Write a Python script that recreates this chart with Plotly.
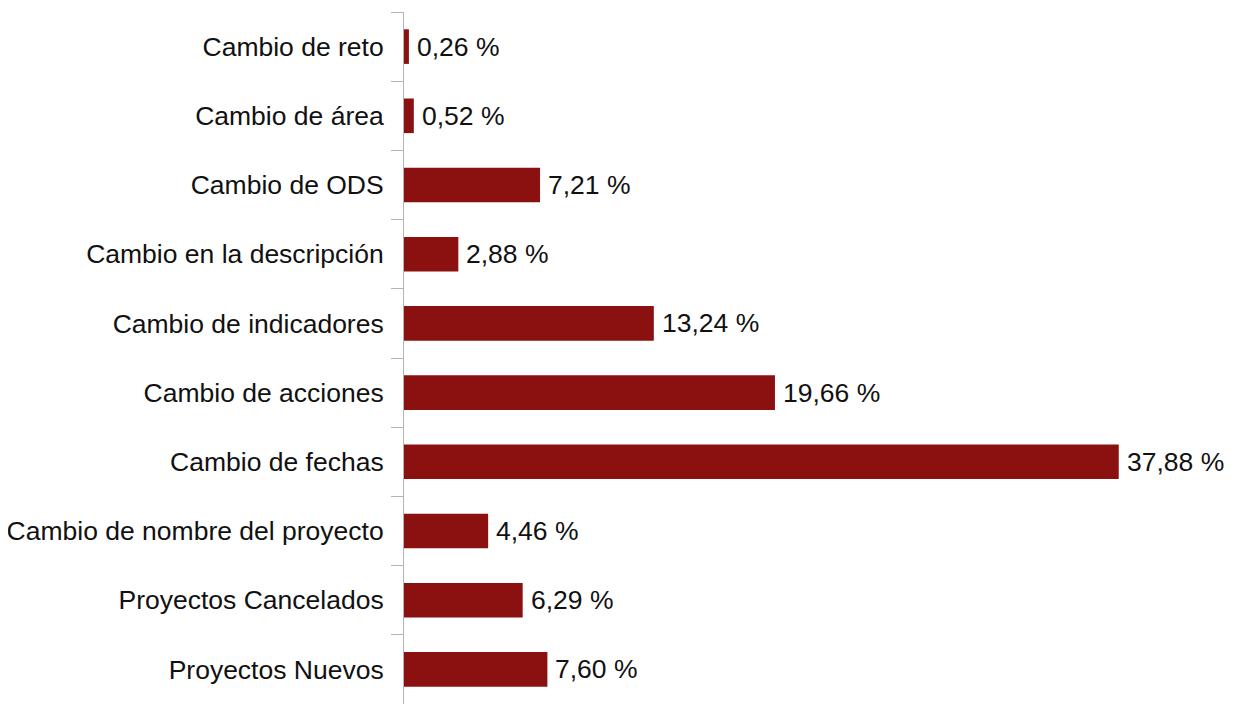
import plotly.graph_objects as go

categories = [
    "Cambio de reto",
    "Cambio de área",
    "Cambio de ODS",
    "Cambio en la descripción",
    "Cambio de indicadores",
    "Cambio de acciones",
    "Cambio de fechas",
    "Cambio de nombre del proyecto",
    "Proyectos Cancelados",
    "Proyectos Nuevos",
]
values = [0.26, 0.52, 7.21, 2.88, 13.24, 19.66, 37.88, 4.46, 6.29, 7.60]
labels = [f"{v:.2f}".replace(".", ",") + " %" for v in values]

bar_color = "#8b1111"
text_color = "#111111"
font_family = "Liberation Sans, Arial, sans-serif"

fig = go.Figure()

fig.add_trace(
    go.Bar(
        x=values,
        y=categories,
        orientation="h",
        width=0.5,
        marker=dict(color=bar_color, line=dict(width=0)),
        showlegend=False,
        hoverinfo="x+y",
    )
)

# value labels just right of each bar
for cat, val, lab in zip(categories, values, labels):
    fig.add_annotation(
        x=val,
        y=cat,
        text=lab,
        showarrow=False,
        xanchor="left",
        yanchor="middle",
        xshift=6,
        font=dict(size=26.5, color=text_color, family=font_family),
    )

# page body has an 8px margin, so the figure is shrunk/offset to match
fig.update_layout(
    width=1230,
    height=696,
    font=dict(family=font_family, size=26.5, color=text_color),
    plot_bgcolor="white",
    paper_bgcolor="white",
    margin=dict(l=396, r=0, t=4, b=0),
)

fig.update_yaxes(
    type="category",
    autorange="reversed",
    showline=True,
    linecolor="#b3b3b3",
    linewidth=1,
    ticks="outside",
    tickson="boundaries",
    ticklen=12,
    tickcolor="#b3b3b3",
    showgrid=False,
    ticklabelstandoff=14,
)

fig.update_xaxes(
    range=[0, 44.2],
    visible=False,
    showgrid=False,
    zeroline=False,
)

fig.write_html("out.html")
